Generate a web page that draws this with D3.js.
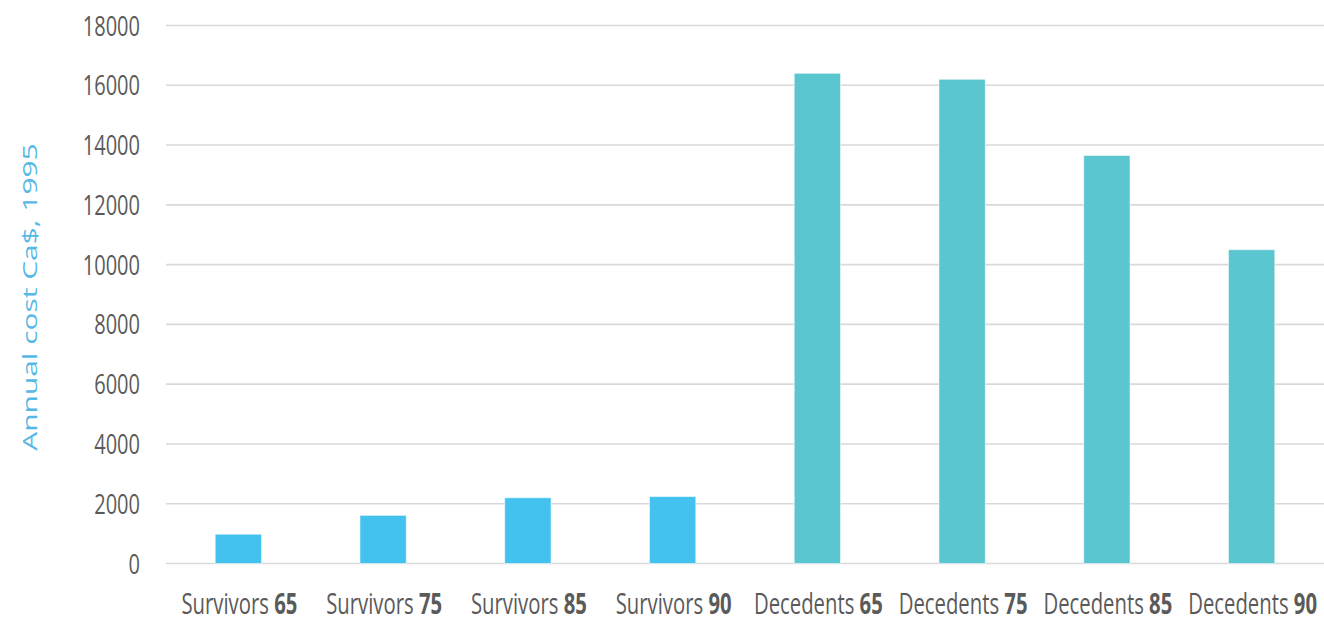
<!DOCTYPE html>
<html>
<head>
<meta charset="utf-8">
<script src="https://cdn.jsdelivr.net/npm/d3@7/dist/d3.min.js"></script>
<style>
  html, body { margin: 0; padding: 0; background: #fff; }
  svg { display: block; }
  text { font-family: "Open Sans", "Noto Sans", sans-serif; }
</style>
</head>
<body>
<svg id="chart" width="1324" height="623"></svg>
<script>
// Annual cost per person, survivors vs. decedents by age
const groups = ["Survivors", "Survivors", "Survivors", "Survivors",
                "Decedents", "Decedents", "Decedents", "Decedents"];
const ages = ["65", "75", "85", "90", "65", "75", "85", "90"];
const costs = [980, 1610, 2200, 2240, 16400, 16200, 13650, 10500];
const yTicks = [0, 2000, 4000, 6000, 8000, 10000, 12000, 14000, 16000, 18000];
const yTitle = "Annual cost Ca$, 1995";
const groupColors = { Survivors: "#43c1ef", Decedents: "#5ac6cf" };

const W = 1324, H = 623;
const plot = { left: 166, right: 1324, top: 25.5, bottom: 563.5 };
const stretch = 1.4; // tall, narrow lettering

const svg = d3.select("#chart");
const keys = costs.map((d, i) => i);

const x = d3.scaleBand()
  .domain(keys)
  .range([plot.left, plot.right])
  .paddingInner(0.68)
  .paddingOuter(0.34);

const y = d3.scaleLinear()
  .domain([0, 18000])
  .range([plot.bottom, plot.top]);

// horizontal gridlines
svg.append("g")
  .selectAll("line")
  .data(yTicks)
  .join("line")
  .attr("x1", plot.left)
  .attr("x2", plot.right)
  .attr("y1", d => y(d))
  .attr("y2", d => y(d))
  .attr("stroke", "#d9d9d9")
  .attr("stroke-width", 1.6);

// y tick labels
svg.append("g")
  .selectAll("text")
  .data(yTicks)
  .join("text")
  .attr("transform", d => `translate(140,${y(d)}) scale(1,${stretch})`)
  .attr("text-anchor", "end")
  .attr("dy", "0.36em")
  .attr("font-size", 20)
  .attr("fill", "#5a5a5a")
  .text(d => d);

// bars
svg.append("g")
  .selectAll("rect")
  .data(keys)
  .join("rect")
  .attr("x", i => x(i))
  .attr("width", x.bandwidth())
  .attr("y", i => y(costs[i]))
  .attr("height", i => y(0) - y(costs[i]))
  .attr("fill", i => groupColors[groups[i]])
  .attr("stroke", "rgba(255,255,255,0.55)")
  .attr("stroke-width", 1);

// category labels
const lab = svg.append("g")
  .selectAll("text")
  .data(keys)
  .join("text")
  .attr("transform", i => `translate(${x(i) + x.bandwidth() / 2 + 1},614) scale(1,${stretch})`)
  .attr("text-anchor", "middle")
  .attr("font-size", 20.3)
  .attr("fill", "#5a5a5a");
lab.append("tspan").text(i => groups[i] + " ");
lab.append("tspan").attr("font-weight", 700).text(i => ages[i]);

// y axis title
svg.append("text")
  .attr("transform", `translate(37,297) rotate(-90) scale(1.46,1)`)
  .attr("text-anchor", "middle")
  .attr("font-size", 20.5)
  .attr("fill", "#55b8e6")
  .text(yTitle);
</script>
</body>
</html>
